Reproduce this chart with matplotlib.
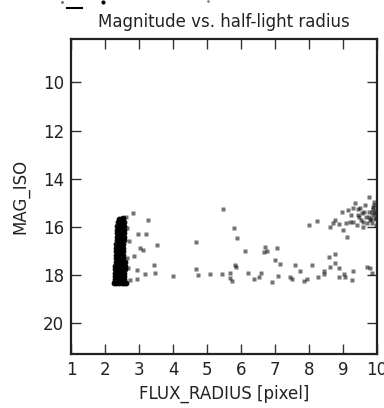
import matplotlib
matplotlib.use("Agg")
import matplotlib.pyplot as plt
from matplotlib.lines import Line2D

# ---- data ----
# dense stellar locus (blob), rows of magnitude with x positions
blob_x = [2.40, 2.47, 2.54,
          2.37, 2.44, 2.51, 2.57,
          2.36, 2.43, 2.50, 2.57,
          2.35, 2.42, 2.49, 2.56,
          2.35, 2.42, 2.49, 2.56,
          2.34, 2.41, 2.48, 2.55,
          2.34, 2.41, 2.48, 2.55,
          2.33, 2.40, 2.47, 2.54,
          2.33, 2.40, 2.47, 2.54,
          2.32, 2.39, 2.46, 2.53,
          2.32, 2.39, 2.46, 2.53,
          2.31, 2.38, 2.45, 2.52,
          2.31, 2.38, 2.45, 2.52, 2.58,
          2.30, 2.37, 2.44, 2.51, 2.58,
          2.30, 2.37, 2.44, 2.51, 2.58,
          2.29, 2.36, 2.43, 2.50, 2.57,
          2.29, 2.36, 2.43, 2.50, 2.57,
          2.28, 2.35, 2.42, 2.49, 2.56,
          2.28, 2.35, 2.42, 2.49, 2.56,
          2.25, 2.33, 2.41, 2.49, 2.57, 2.62]
blob_y = [15.68, 15.66, 15.64,
          15.82, 15.82, 15.82, 15.82,
          15.97, 15.97, 15.97, 15.97,
          16.12, 16.12, 16.12, 16.12,
          16.27, 16.27, 16.27, 16.27,
          16.42, 16.42, 16.42, 16.42,
          16.57, 16.57, 16.57, 16.57,
          16.72, 16.72, 16.72, 16.72,
          16.87, 16.87, 16.87, 16.87,
          17.02, 17.02, 17.02, 17.02,
          17.17, 17.17, 17.17, 17.17,
          17.32, 17.32, 17.32, 17.32,
          17.47, 17.47, 17.47, 17.47, 17.47,
          17.62, 17.62, 17.62, 17.62, 17.62,
          17.77, 17.77, 17.77, 17.77, 17.77,
          17.92, 17.92, 17.92, 17.92, 17.92,
          18.05, 18.05, 18.05, 18.05, 18.05,
          18.17, 18.17, 18.17, 18.17, 18.17,
          18.27, 18.27, 18.27, 18.27, 18.27,
          18.33, 18.33, 18.33, 18.33, 18.33, 18.33]

# scattered sources
scat_x = [2.83, 3.25, 2.98, 3.21, 3.03, 3.13, 3.52, 2.85, 2.93, 3.18, 3.44, 3.47,
          2.95, 3.99, 4.67, 4.67, 4.72, 5.09, 5.46, 5.45, 5.68, 5.66, 5.72, 5.79,
          5.87, 5.82, 5.85, 6.12, 6.20, 6.39, 6.53, 6.60, 6.69, 6.67, 6.75, 6.92,
          6.99, 7.07, 7.10, 7.15, 7.44, 7.49, 7.59, 7.72, 7.86, 7.93, 8.01, 8.09,
          8.23, 8.25, 8.44, 8.44, 8.58, 8.62, 8.75, 8.76, 8.89, 8.89, 9.03, 9.06,
          9.25, 9.28, 9.70, 9.79, 9.86,
          8.62, 8.70, 8.76, 8.89, 8.98, 9.01, 9.11, 9.09, 9.15, 9.23, 9.28, 9.30,
          9.35, 9.40, 9.45, 9.50, 9.55, 9.60, 9.65, 9.68, 9.75, 9.77, 9.80, 9.84,
          9.87, 9.89, 9.92, 9.94, 9.97, 9.97, 9.62, 9.52, 9.70, 9.43, 9.84, 9.91,
          9.75, 9.21, 9.58, 9.48, 9.93, 9.96, 9.88, 9.99, 9.82,
          2.62, 2.66, 2.70, 2.64, 2.68, 2.72]
scat_y = [15.42, 15.73, 16.31, 16.31, 16.90, 16.97, 16.76, 17.22, 17.80, 17.98, 17.59, 17.91,
          18.19, 18.05, 16.63, 17.77, 17.99, 17.98, 15.28, 17.98, 17.91, 18.15, 18.24, 16.04,
          16.45, 17.59, 17.66, 17.01, 17.91, 18.17, 18.10, 17.91, 16.83, 17.04, 17.01, 18.31,
          17.39, 16.90, 18.05, 17.57, 18.10, 18.17, 17.59, 17.86, 18.24, 18.19, 15.91, 17.59,
          15.75, 18.10, 17.83, 17.98, 17.28, 17.69, 17.14, 17.52, 17.73, 18.08, 17.98, 18.08,
          18.22, 17.83, 17.66, 17.73, 17.91,
          16.00, 15.84, 15.73, 15.89, 15.38, 16.14, 16.42, 15.84, 15.31, 15.52, 15.24, 15.80,
          15.03, 15.93, 15.52, 15.24, 15.45, 15.80, 15.10, 15.59, 14.76, 15.38, 15.73, 15.86,
          15.17, 15.52, 14.97, 15.70, 15.34, 15.93, 15.38, 15.73, 15.84, 15.28, 15.38, 15.10,
          15.59, 15.80, 16.00, 15.59, 15.45, 15.62, 15.28, 15.50, 15.66,
          15.60, 16.05, 16.60, 17.30, 17.70, 18.20]

x_ticks = [1, 2, 3, 4, 5, 6, 7, 8, 9, 10]
y_ticks = [10, 12, 14, 16, 18, 20]

# ---- figure ----
fig = plt.figure(figsize=(3.84, 4.08), dpi=100)
ax = fig.add_axes([0.185, 0.132, 0.797, 0.772])

ax.plot(blob_x, blob_y, 'o', color='black', ms=4.2, mec='none', alpha=0.95)
ax.plot(scat_x, scat_y, 's', color='black', ms=2.4, mec='none', alpha=0.55)

ax.set_xlim(1, 10)
ax.set_ylim(21.3, 8.2)
ax.set_xticks(x_ticks)
ax.set_yticks(y_ticks)
ax.tick_params(direction='in', length=7, width=1, top=True, right=True,
               labelsize=12, pad=5, color='#333333', labelcolor='#222222')
for s in ax.spines.values():
    s.set_linewidth(1.6)
    s.set_color('#222222')

ax.set_title('Magnitude vs. half-light radius', fontsize=12, pad=9, color='#222222')
ax.set_xlabel('FLUX_RADIUS [pixel]', fontsize=12, color='#222222', labelpad=4)
ax.set_ylabel('MAG_ISO', fontsize=12, color='#222222', labelpad=10)

# remnants of a cropped image strip at the very top
fig.add_artist(Line2D([67/384, 82/384], [1 - 8/408, 1 - 8/408],
                      transform=fig.transFigure, color='black', lw=1.5))
fig.add_artist(Line2D([103/384], [1 - 2/408], transform=fig.transFigure,
                      marker='o', ms=3, color='black', mec='none'))
fig.add_artist(Line2D([62/384], [1 - 2/408], transform=fig.transFigure,
                      marker='o', ms=2, color='#666666', mec='none'))
fig.add_artist(Line2D([208/384], [1 - 1/408], transform=fig.transFigure,
                      marker='o', ms=2, color='#888888', mec='none'))

fig.savefig('out.png', dpi=100)
